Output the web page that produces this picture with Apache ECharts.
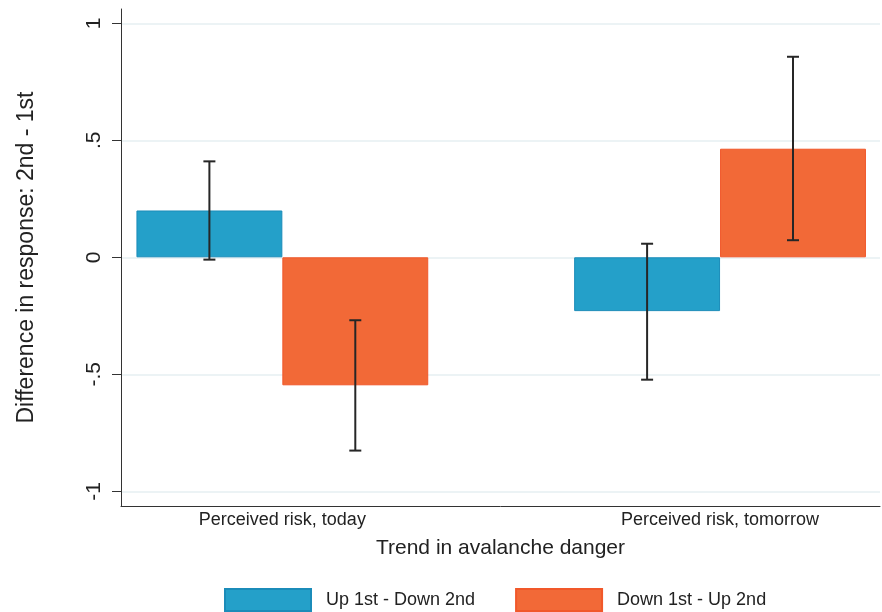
<!DOCTYPE html>
<html>
<head>
<meta charset="utf-8">
<script src="https://cdn.jsdelivr.net/npm/echarts@6/dist/echarts.min.js"></script>
<style>
  html, body { margin: 0; padding: 0; background: #fff; }
  #chart { width: 882px; height: 612px; }
</style>
</head>
<body>
<div id="chart"></div>
<script>
// Groups on the x axis
var categories = ['Perceived risk, today', 'Perceived risk, tomorrow'];
var seriesNames = ['Up 1st - Down 2nd', 'Down 1st - Up 2nd'];

// Mean difference (2nd - 1st) per group
var upDownMean = [0.20, -0.23];
var downUpMean = [-0.547, 0.464];

// Confidence interval bounds
var upDownLow = [-0.01, -0.523];
var upDownHigh = [0.41, 0.058];
var downUpLow = [-0.826, 0.073];
var downUpHigh = [-0.269, 0.857];

// Y tick values and their printed labels
var yTicks = [-1, -0.5, 0, 0.5, 1];
var yTickLabels = ['-1', '-.5', '0', '.5', '1'];

var FONT = '"Liberation Sans", Arial, Helvetica, sans-serif';
var BLUE = '#24a0c9', BLUE_EDGE = '#1b8cb9';
var ORANGE = '#f26937', ORANGE_EDGE = '#f1582a';

function errorData(low, high, side) {
  return categories.map(function (c, i) { return [i, low[i], high[i], side]; });
}

// Vertical whisker with caps, shifted onto its bar within the category band
function renderError(params, api) {
  var idx = api.value(0);
  var side = api.value(3);
  var band = api.size([1, 0])[0];
  var shift = side * band / 6;
  var top = api.coord([idx, api.value(2)]);
  var bot = api.coord([idx, api.value(1)]);
  var x = top[0] + shift;
  var cap = 6;
  var style = { stroke: '#262626', lineWidth: 2 };
  return {
    type: 'group',
    children: [
      { type: 'line', shape: { x1: x, y1: top[1], x2: x, y2: bot[1] }, style: style },
      { type: 'line', shape: { x1: x - cap, y1: top[1], x2: x + cap, y2: top[1] }, style: style },
      { type: 'line', shape: { x1: x - cap, y1: bot[1], x2: x + cap, y2: bot[1] }, style: style }
    ]
  };
}

var chart = echarts.init(document.getElementById('chart'), null, { renderer: 'canvas' });

chart.setOption({
  animation: false,
  backgroundColor: '#ffffff',
  textStyle: { fontFamily: FONT },
  grid: [
    // bars (wide band so the groups sit inward of the frame)
    { left: 63.5, width: 875.4, top: 23.3, bottom: 120.7, outerBoundsMode: 'none', containLabel: false },
    // ticks, labels and grid lines
    { left: 121, right: 2, top: 23.3, bottom: 120.7, outerBoundsMode: 'none', containLabel: false },
    // axis frame
    { left: 121, right: 2, top: 9, bottom: 106, outerBoundsMode: 'none', containLabel: false }
  ],
  xAxis: [
    {
      gridIndex: 0, type: 'category', data: categories,
      axisLine: { show: false }, axisTick: { show: false },
      axisLabel: { margin: 20, fontSize: 18, color: '#222', fontFamily: FONT }
    },
    { gridIndex: 1, type: 'value', show: false, min: 0, max: 1 },
    {
      gridIndex: 2, type: 'value', min: 0, max: 1,
      axisLine: { show: true, lineStyle: { color: '#333', width: 1 } },
      axisTick: { show: false }, axisLabel: { show: false }, splitLine: { show: false },
      name: 'Trend in avalanche danger', nameLocation: 'middle', nameGap: 32,
      nameTextStyle: { fontSize: 21, color: '#222', fontFamily: FONT }
    }
  ],
  yAxis: [
    { gridIndex: 0, type: 'value', min: -1, max: 1, show: false },
    {
      gridIndex: 1, type: 'value', min: -1, max: 1, interval: 0.5,
      axisLine: { show: false },
      axisTick: { show: true, length: 9, lineStyle: { color: '#333', width: 1 } },
      axisLabel: {
        rotate: 90, margin: 16, fontSize: 21, color: '#222', fontFamily: FONT,
        formatter: function (v) {
          var k = yTicks.indexOf(Math.round(v * 10) / 10);
          return k >= 0 ? yTickLabels[k] : '';
        }
      },
      splitLine: { show: true, lineStyle: { color: '#e6eff2', width: 1.5 } }
    },
    {
      gridIndex: 2, type: 'value', min: 0, max: 1,
      axisLine: { show: true, lineStyle: { color: '#333', width: 1 } },
      axisTick: { show: false }, axisLabel: { show: false }, splitLine: { show: false },
      name: 'Difference in response: 2nd - 1st', nameLocation: 'middle', nameGap: 83,
      nameTextStyle: { fontSize: 23, color: '#222', fontFamily: FONT }
    }
  ],
  legend: {
    data: seriesNames,
    icon: 'rect',
    left: 219, top: 583,
    itemWidth: 86, itemHeight: 22, itemGap: 40,
    textStyle: { fontSize: 18, color: '#222', fontFamily: FONT, padding: [0, 0, 0, 10] }
  },
  series: [
    {
      name: seriesNames[0], type: 'bar', xAxisIndex: 0, yAxisIndex: 0,
      data: upDownMean, barWidth: '33.333%', barGap: '0%',
      itemStyle: { color: BLUE, borderColor: BLUE_EDGE, borderWidth: 1 }
    },
    {
      name: seriesNames[1], type: 'bar', xAxisIndex: 0, yAxisIndex: 0,
      data: downUpMean, barWidth: '33.333%', barGap: '0%',
      itemStyle: { color: ORANGE, borderColor: ORANGE_EDGE, borderWidth: 1 }
    },
    {
      name: 'ci-updown', type: 'custom', xAxisIndex: 0, yAxisIndex: 0,
      data: errorData(upDownLow, upDownHigh, -1), renderItem: renderError, z: 5
    },
    {
      name: 'ci-downup', type: 'custom', xAxisIndex: 0, yAxisIndex: 0,
      data: errorData(downUpLow, downUpHigh, 1), renderItem: renderError, z: 5
    }
  ]
});
</script>
</body>
</html>
